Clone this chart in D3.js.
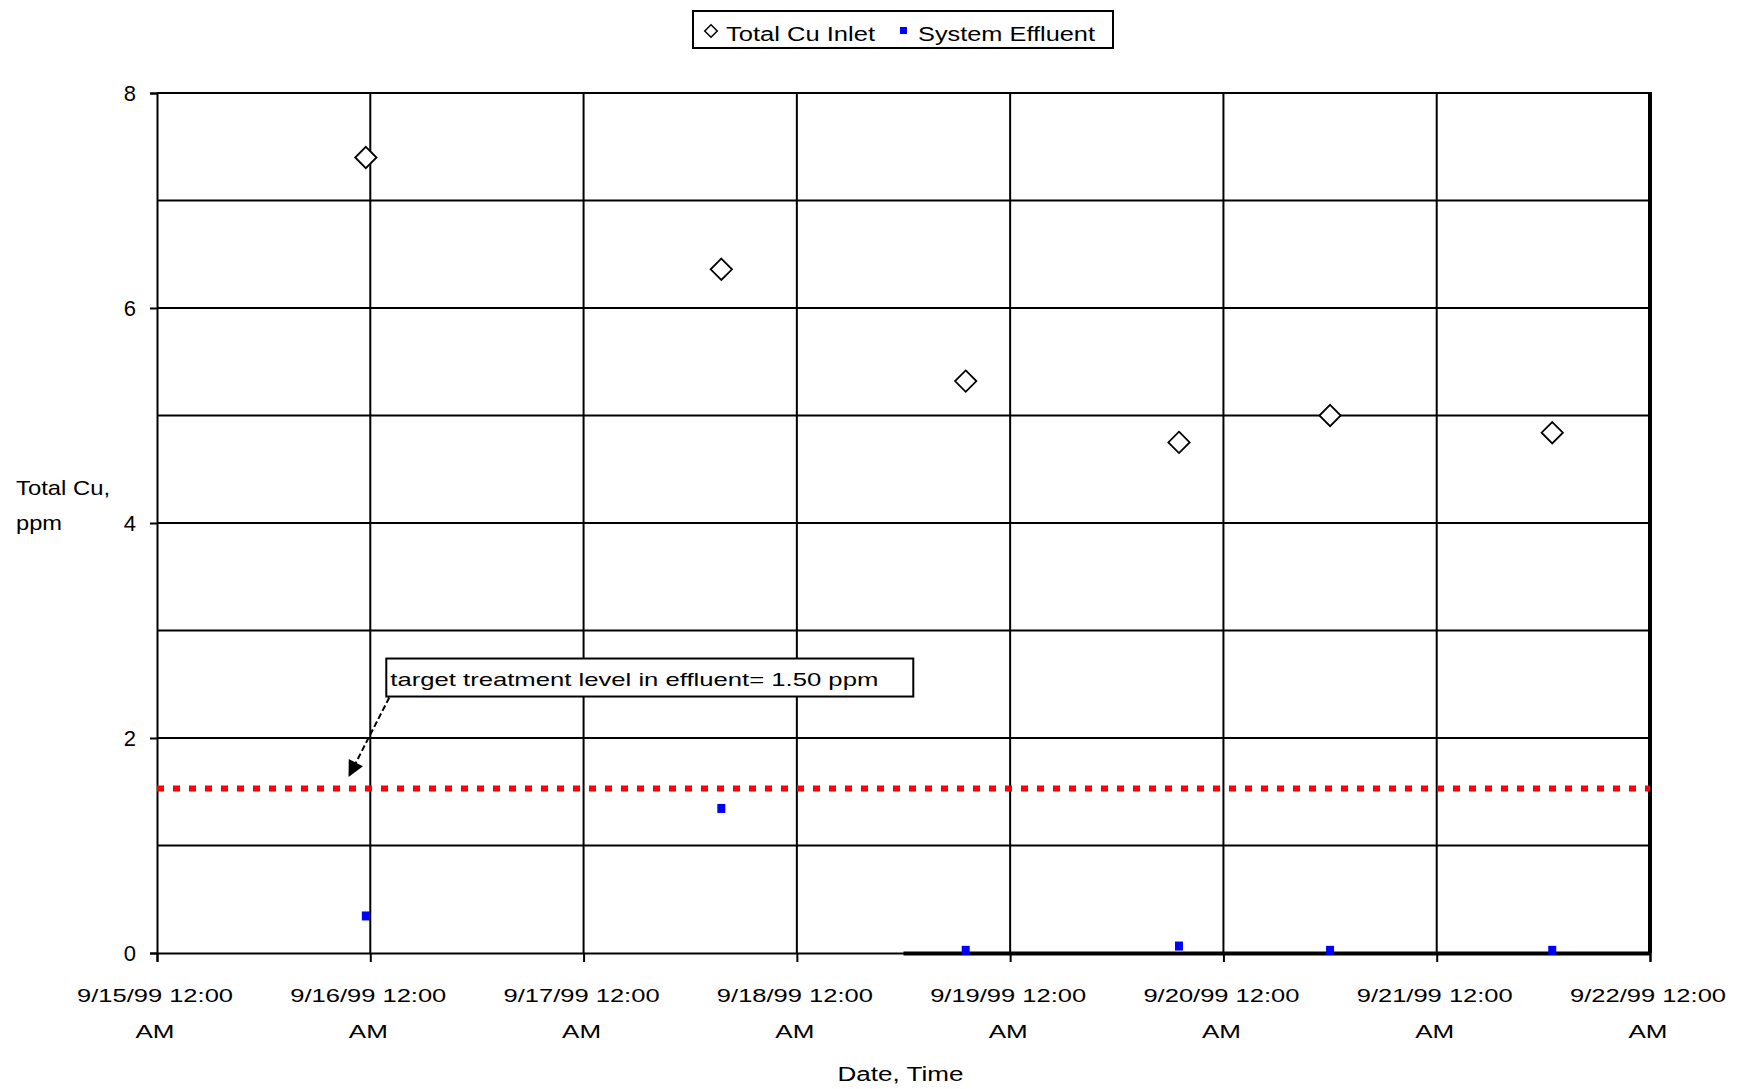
<!DOCTYPE html>
<html><head><meta charset="utf-8">
<script src="https://cdn.jsdelivr.net/npm/d3@7"></script>
<style>body{margin:0;background:#fff} text{font-family:"Liberation Sans",Arial,sans-serif;fill:#000}</style>
</head><body><svg id="c" width="1744" height="1089"></svg>
<script>
// ---- data ----
const sampleTimes = ["1999-09-15T23:30","1999-09-17T15:30","1999-09-18T19:00","1999-09-19T19:00","1999-09-20T12:00","1999-09-21T13:00"];
const inletValues = [7.40, 6.36, 5.32, 4.75, 5.00, 4.84];
const effluentValues = [0.34, 1.34, 0.02, 0.06, 0.02, 0.02];
const targetLevel = 1.53;
const targetLabel = "target treatment level in effluent= 1.50 ppm";
const xTickDates = ["1999-09-15T00:00","1999-09-16T00:00","1999-09-17T00:00","1999-09-18T00:00","1999-09-19T00:00","1999-09-20T00:00","1999-09-21T00:00","1999-09-22T00:00"];
const xTickLine1 = ["9/15/99 12:00","9/16/99 12:00","9/17/99 12:00","9/18/99 12:00","9/19/99 12:00","9/20/99 12:00","9/21/99 12:00","9/22/99 12:00"];
const xTickLine2 = ["AM","AM","AM","AM","AM","AM","AM","AM"];
const yTickValues = [0, 2, 4, 6, 8];
const yGridValues = [1, 2, 3, 4, 5, 6, 7];
const legendNames = ["Total Cu Inlet", "System Effluent"];

const parse = d3.timeParse("%Y-%m-%dT%H:%M");
const svg = d3.select("#c");
const L = 157, R = 1650, T = 93, B = 953;
const x = d3.scaleTime().domain([parse(xTickDates[0]), parse(xTickDates[xTickDates.length-1])]).range([L, R]);
const y = d3.scaleLinear().domain([0, 8]).range([B, T]);

// grid
svg.append("g").selectAll("line").data(yGridValues).join("line")
  .attr("x1", L).attr("x2", R).attr("y1", d => y(d)).attr("y2", d => y(d))
  .attr("stroke", "#000").attr("stroke-width", 2);
svg.append("g").selectAll("line").data(xTickDates.slice(1, -1)).join("line")
  .attr("x1", d => x(parse(d))).attr("x2", d => x(parse(d))).attr("y1", T).attr("y2", B)
  .attr("stroke", "#000").attr("stroke-width", 2);

// frame
svg.append("line").attr("x1", L).attr("x2", R).attr("y1", T).attr("y2", T).attr("stroke", "#000").attr("stroke-width", 2);
svg.append("line").attr("x1", R).attr("x2", R).attr("y1", T - 1).attr("y2", B).attr("stroke", "#000").attr("stroke-width", 4);

// axes
const xAxis = svg.append("g").attr("transform", `translate(0,${B})`)
  .call(d3.axisBottom(x).tickValues(xTickDates.map(parse)).tickSize(9).tickFormat(""));
const yAxis = svg.append("g").attr("transform", `translate(${L},0)`)
  .call(d3.axisLeft(y).tickValues(yTickValues).tickSize(7).tickFormat(""));
[xAxis, yAxis].forEach(a => {
  a.select(".domain").attr("stroke", "#000").attr("stroke-width", 2);
  a.selectAll(".tick line").attr("stroke", "#000").attr("stroke-width", 2);
});
// thicker segment of the bottom axis
svg.append("line").attr("x1", x(parse("1999-09-18T12:00"))).attr("x2", R).attr("y1", B + 0.5).attr("y2", B + 0.5)
  .attr("stroke", "#000").attr("stroke-width", 4);

// y tick labels
svg.append("g").selectAll("text").data(yTickValues).join("text")
  .attr("x", L - 21).attr("y", d => y(d) + 8).attr("text-anchor", "end")
  .attr("font-size", 22).text(d => d);

// x tick labels
const xl = svg.append("g").selectAll("g").data(xTickDates).join("g")
  .attr("transform", d => `translate(${x(parse(d)) - 2},0)`);
xl.append("text").attr("y", B + 49).attr("text-anchor", "middle").attr("font-size", 19)
  .attr("textLength", 156).attr("lengthAdjust", "spacingAndGlyphs").text((d, i) => xTickLine1[i]);
xl.append("text").attr("y", B + 85).attr("text-anchor", "middle").attr("font-size", 19)
  .attr("textLength", 39).attr("lengthAdjust", "spacingAndGlyphs").text((d, i) => xTickLine2[i]);

// axis titles
svg.append("text").attr("x", (L + R) / 2 - 3).attr("y", 1081).attr("text-anchor", "middle")
  .attr("font-size", 20).attr("textLength", 126).attr("lengthAdjust", "spacingAndGlyphs").text("Date, Time");
svg.append("text").attr("x", 16).attr("y", 495).attr("font-size", 21)
  .attr("textLength", 94).attr("lengthAdjust", "spacingAndGlyphs").text("Total Cu,");
svg.append("text").attr("x", 16).attr("y", 530).attr("font-size", 21)
  .attr("textLength", 46).attr("lengthAdjust", "spacingAndGlyphs").text("ppm");

// target line
svg.append("line").attr("x1", L).attr("x2", R).attr("y1", y(targetLevel)).attr("y2", y(targetLevel))
  .attr("stroke", "#ff0000").attr("stroke-width", 6).attr("stroke-dasharray", "7,9");

// series
const diamond = d3.symbol().type(d3.symbolDiamond2).size(290);
svg.append("g").selectAll("path").data(sampleTimes).join("path")
  .attr("transform", (d, i) => `translate(${x(parse(d))},${y(inletValues[i])})`)
  .attr("d", diamond).attr("fill", "#fff").attr("stroke", "#000").attr("stroke-width", 1.8);
svg.append("g").selectAll("rect").data(sampleTimes).join("rect")
  .attr("x", d => x(parse(d)) - 4).attr("y", (d, i) => y(effluentValues[i]) - 5)
  .attr("width", 8).attr("height", 9).attr("fill", "#0000ff");

// annotation
const ax0 = x(parse(xTickDates[1])), ay0 = y(targetLevel);
const box = {x: ax0 + 16, y: ay0 - 130, w: 527, h: 38};
svg.append("rect").attr("x", box.x).attr("y", box.y).attr("width", box.w).attr("height", box.h)
  .attr("fill", "#fff").attr("stroke", "#000").attr("stroke-width", 2);
svg.append("text").attr("x", box.x + 4).attr("y", box.y + 27).attr("font-size", 19)
  .attr("textLength", 488).attr("lengthAdjust", "spacingAndGlyphs").text(targetLabel);
svg.append("defs").append("marker").attr("id", "ah").attr("viewBox", "0 0 10 10")
  .attr("refX", 9).attr("refY", 5).attr("markerWidth", 18).attr("markerHeight", 16)
  .attr("markerUnits", "userSpaceOnUse").attr("orient", "auto")
  .append("path").attr("d", "M0,0 L10,5 L0,10 z").attr("fill", "#000");
svg.append("line").attr("x1", box.x + 3).attr("y1", box.y + box.h + 1)
  .attr("x2", ax0 - 21).attr("y2", ay0 - 13)
  .attr("stroke", "#000").attr("stroke-width", 2).attr("stroke-dasharray", "6,3").attr("marker-end", "url(#ah)");

// legend
const lg = svg.append("g");
lg.append("rect").attr("x", 693).attr("y", 11).attr("width", 420).attr("height", 37)
  .attr("fill", "#fff").attr("stroke", "#000").attr("stroke-width", 2);
lg.append("path").attr("transform", "translate(711,31)").attr("d", d3.symbol().type(d3.symbolDiamond2).size(100))
  .attr("fill", "#fff").attr("stroke", "#000").attr("stroke-width", 1.5);
lg.append("text").attr("x", 726).attr("y", 41).attr("font-size", 20)
  .attr("textLength", 149).attr("lengthAdjust", "spacingAndGlyphs").text(legendNames[0]);
lg.append("rect").attr("x", 900).attr("y", 27).attr("width", 7).attr("height", 7).attr("fill", "#0000ff");
lg.append("text").attr("x", 918).attr("y", 41).attr("font-size", 20)
  .attr("textLength", 177).attr("lengthAdjust", "spacingAndGlyphs").text(legendNames[1]);
</script></body></html>
